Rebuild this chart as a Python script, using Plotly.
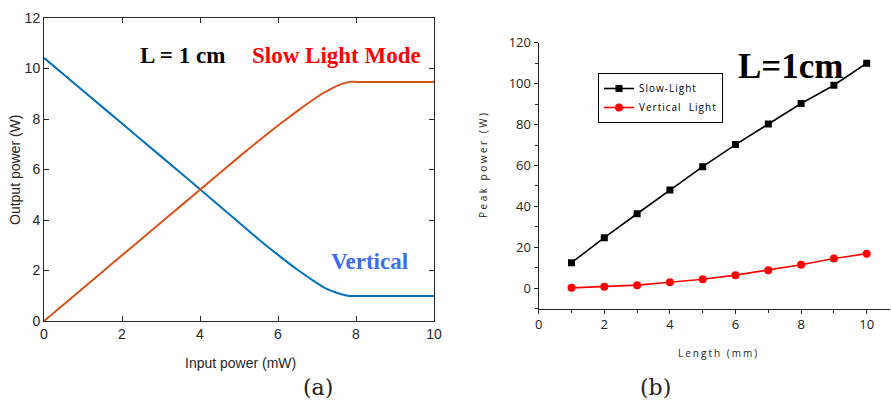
import plotly.graph_objects as go

# ---- (a) output power vs input power, L = 1 cm ----
input_mw = [0, 1, 2, 3, 4, 5, 5.5, 6, 6.5, 7, 7.25, 7.5, 7.7, 7.85, 8, 9, 10]
slow_out_w = [0, 1.3, 2.6, 3.9, 5.2, 6.5, 7.13, 7.74, 8.32, 8.87, 9.1, 9.3, 9.42, 9.47, 9.47, 9.47, 9.47]
vert_out_w = [10.42, 9.12, 7.82, 6.52, 5.22, 3.9, 3.24, 2.62, 2.03, 1.5, 1.27, 1.12, 1.03, 0.99, 0.99, 0.99, 0.99]

# ---- (b) peak power vs device length ----
length_mm = [1, 2, 3, 4, 5, 6, 7, 8, 9, 10]
slow_peak_w = [12.5, 24.7, 36.4, 48.0, 59.4, 70.2, 80.3, 90.3, 99.2, 110.0]
vert_peak_w = [0.2, 0.7, 1.5, 2.9, 4.4, 6.4, 8.8, 11.5, 14.5, 16.9]

W, H = 891, 403


def px(x):
    return x / W


def py(y):
    return 1 - y / H


def spaced(text, gap):
    return '<span style="letter-spacing:%spx">%s</span>' % (gap, text)


fig = go.Figure()

fig.add_trace(go.Scatter(x=input_mw, y=vert_out_w, mode="lines",
                         line=dict(color="#0072BD", width=2, shape="spline", smoothing=0.5),
                         xaxis="x", yaxis="y", showlegend=False))
fig.add_trace(go.Scatter(x=input_mw, y=slow_out_w, mode="lines",
                         line=dict(color="#D95319", width=2, shape="spline", smoothing=0.5),
                         xaxis="x", yaxis="y", showlegend=False))

fig.add_trace(go.Scatter(x=length_mm, y=slow_peak_w, mode="lines+markers",
                         name=spaced("Slow-Light", 1),
                         line=dict(color="black", width=1.6),
                         marker=dict(symbol="square", size=7, color="black"),
                         xaxis="x2", yaxis="y2"))
fig.add_trace(go.Scatter(x=length_mm, y=vert_peak_w, mode="lines+markers",
                         name=spaced("Vertical  Light", 1),
                         line=dict(color="#FF0000", width=1.6),
                         marker=dict(symbol="circle", size=8, color="#FF0000"),
                         xaxis="x2", yaxis="y2"))

narrow = "Liberation Sans Narrow, Arial Narrow, Liberation Sans, Arial"
left_tick_font = dict(family=narrow, size=14, color="#262626")
right_tick_font = dict(family="Open Sans, Noto Sans, Arial", size=13, color="#222222")

fig.update_layout(
    width=W, height=H,
    margin=dict(l=0, r=0, t=0, b=0, autoexpand=False),
    paper_bgcolor="white", plot_bgcolor="white",
    xaxis=dict(domain=[px(44), px(434)], range=[0, 10], dtick=2,
               showline=True, linecolor="#262626", linewidth=1, mirror="ticks",
               ticks="inside", ticklen=5, tickcolor="#262626",
               showgrid=False, zeroline=False, tickfont=left_tick_font,
               automargin=False, anchor="y"),
    yaxis=dict(domain=[py(321), py(18)], range=[0, 12], dtick=2,
               showline=True, linecolor="#262626", linewidth=1, mirror="ticks",
               ticks="inside", ticklen=5, tickcolor="#262626",
               showgrid=False, zeroline=False, tickfont=left_tick_font,
               automargin=False, anchor="x"),
    xaxis2=dict(domain=[px(538.7), px(890)], range=[0, 10.71], tick0=0, dtick=2,
                showline=True, linecolor="#222222", linewidth=1.3,
                ticks="outside", ticklen=4, tickcolor="#222222",
                minor=dict(dtick=1, ticks="outside", ticklen=3, tickcolor="#222222"),
                showgrid=False, zeroline=False, tickfont=right_tick_font,
                automargin=False, anchor="y2"),
    yaxis2=dict(domain=[py(308.7), py(42.7)], range=[-10, 120], tick0=0, dtick=20,
                showline=True, linecolor="#222222", linewidth=1.3,
                ticks="outside", ticklen=4, tickcolor="#222222",
                minor=dict(dtick=10, ticks="outside", ticklen=3, tickcolor="#222222"),
                showgrid=False, zeroline=False, tickfont=right_tick_font,
                automargin=False, anchor="x2"),
    legend=dict(x=px(598), y=py(73), xanchor="left", yanchor="top",
                bgcolor="white", bordercolor="black", borderwidth=1,
                font=dict(family="Open Sans, Noto Sans, Arial", size=10, color="black"),
                itemwidth=30, tracegroupgap=0),
)

serif_bold = "Liberation Serif, Times New Roman, serif"
annotations = [
    # panel (a) labels
    dict(text="<b>L = 1 cm</b>", x=px(182), y=py(55), font=dict(family=serif_bold, size=23, color="black")),
    dict(text="<b>Slow Light Mode</b>", x=px(336), y=py(55), font=dict(family=serif_bold, size=23, color="#FF0000")),
    dict(text="<b>Vertical</b>", x=px(369), y=py(261), font=dict(family=serif_bold, size=23, color="#3A6CF0")),
    dict(text="Input power (mW)", x=px(240), y=py(363),
         font=dict(family=narrow, size=14, color="#262626")),
    dict(text="Output power (W)", x=px(15), y=py(170), textangle=-90,
         font=dict(family=narrow, size=14, color="#262626")),
    dict(text="(a)", x=px(318), y=py(387), font=dict(family="DejaVu Serif, Liberation Serif, serif", size=22, color="#222222")),
    # panel (b) labels
    dict(text="<b>L=1cm</b>", x=px(790), y=py(66), font=dict(family=serif_bold, size=35, color="black")),
    dict(text=spaced("Length (mm)", 2), x=px(718), y=py(353),
         font=dict(family="Open Sans, Noto Sans, Arial", size=10, color="#222222")),
    dict(text=spaced("Peak power (W)", 2.5), x=px(483), y=py(165), textangle=-90,
         font=dict(family="Open Sans, Noto Sans, Arial", size=10, color="#222222")),
    dict(text="(b)", x=px(655), y=py(387), font=dict(family="DejaVu Serif, Liberation Serif, serif", size=22, color="#222222")),
]
for a in annotations:
    a.update(xref="paper", yref="paper", xanchor="center", yanchor="middle", showarrow=False)
fig.update_layout(annotations=annotations)

fig.write_html("out.html")
